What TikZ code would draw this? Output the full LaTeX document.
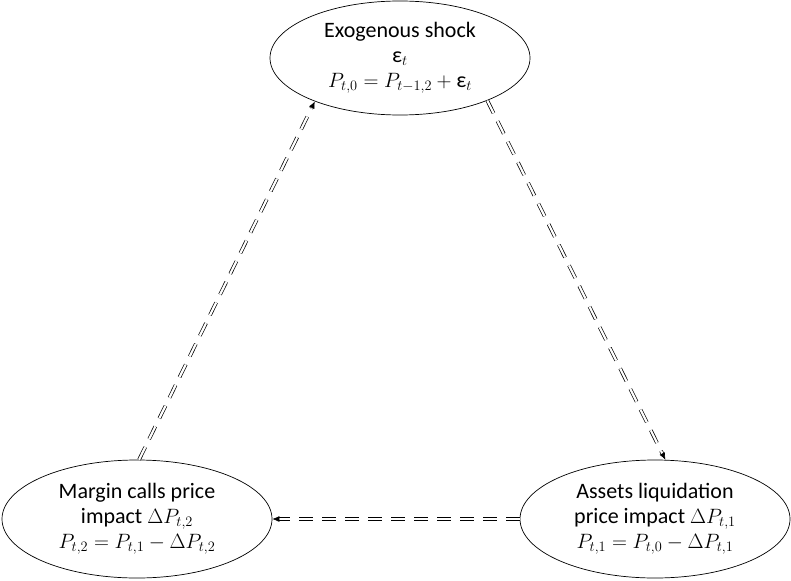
\documentclass[tikz,border=0pt]{standalone}
\usepackage{amsmath}
\usepackage{fontspec}
\setmainfont{Carlito}
\usetikzlibrary{positioning,shapes.geometric,arrows.meta}

\begin{document}
\begin{tikzpicture}[x=1pt,y=-1pt,inner sep=0pt, line width=0.7pt,
    state/.style={ellipse,draw,align=center,minimum width=270pt,minimum height=118pt,
                  font=\fontsize{22}{25}\selectfont},
    feedback/.style={double,double distance=2.2pt,line width=0.7pt,dash pattern=on 14pt off 9pt,
                 -{Latex[length=7pt,width=6pt]}}]
        \useasboundingbox (0,0) rectangle (791,580);
        %the three stages of the spiral
            \node(shock) [state,minimum width=260pt,minimum height=114pt] at (400,58)
                  {Exogenous shock\\ $\text{ε}_t$\\ $P_{t,0}=P_{t-1,2}+\text{ε}_t$};
            \node(liquid) [state] at (655,519)
                  {Assets liquidation\\ price impact $\Delta P_{t,1}$\\ $P_{t,1}=P_{t,0}-\Delta P_{t,1}$};
            \node(margin) [state] at (137,519)
                  {Margin calls price\\ impact $\Delta P_{t,2}$\\ $P_{t,2}=P_{t,1}-\Delta P_{t,2}$};
        %feedback loop
            \draw[feedback] (shock.-26) -- (liquid.80);
            \draw[feedback] (liquid.west) -- (margin.east);
            \draw[feedback] (margin.88) -- (shock.-153);
        \end{tikzpicture}
\end{document}
